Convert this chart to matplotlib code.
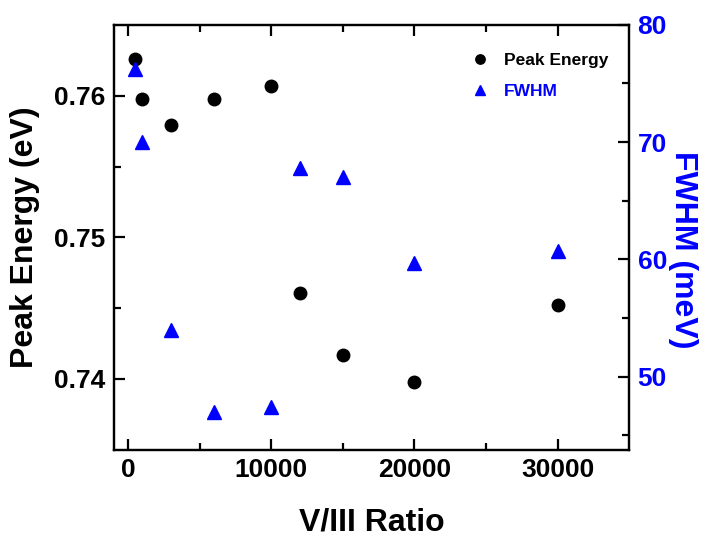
import matplotlib.pyplot as plt
import numpy as np

plt.rcParams['font.family'] = ['Liberation Sans', 'DejaVu Sans']
plt.rcParams['font.weight'] = 'bold'
plt.rcParams['axes.labelweight'] = 'bold'

# V/III ratio
ratio = [500, 1000, 3000, 6000, 10000, 12000, 15000, 20000, 30000]
# peak energy (eV)
energy = [0.7626, 0.7598, 0.7579, 0.7598, 0.7607, 0.7461, 0.7417, 0.7398, 0.7452]
# FWHM (meV)
fwhm = [76.2, 70.0, 54.0, 47.0, 47.4, 67.8, 67.0, 59.7, 60.7]

fig = plt.figure(figsize=(7.11, 5.40), dpi=100)
ax = fig.add_axes([0.160, 0.167, 0.725, 0.787])
ax2 = ax.twinx()

p1, = ax.plot(ratio, energy, 'o', color='black', markersize=9, label='Peak Energy')
p2, = ax2.plot(ratio, fwhm, '^', color='blue', markersize=10, label='FWHM')

ax.set_xlim(-1000, 35000)
ax.set_ylim(0.735, 0.765)
ax2.set_ylim(43.75, 80)

ax.set_xticks([0, 10000, 20000, 30000])
ax.set_xticks([5000, 15000, 25000], minor=True)
ax.set_yticks([0.74, 0.75, 0.76])
ax.set_yticks([0.745, 0.755], minor=True)
ax.set_yticklabels(['0.74', '0.75', '0.76'])
ax2.set_yticks([50, 60, 70, 80])
ax2.set_yticks([45, 55, 65, 75], minor=True)

for a in (ax, ax2):
    for s in a.spines.values():
        s.set_linewidth(1.6)
ax.tick_params(which='both', direction='in', top=True, width=1.6, labelsize=19, pad=6)
ax.tick_params(which='major', length=8)
ax.tick_params(which='minor', length=5)
ax.tick_params(axis='y', right=False)
ax2.tick_params(which='both', direction='in', width=1.6, labelsize=19, colors='black',
                labelcolor='blue', pad=6)
ax2.tick_params(which='major', length=8)
ax2.tick_params(which='minor', length=5)

ax.set_xlabel('V/III Ratio', fontsize=23, fontweight='bold', labelpad=18)
ax.set_ylabel('Peak Energy (eV)', fontsize=23, fontweight='bold', labelpad=10)
ax2.set_ylabel('FWHM (meV)', fontsize=23, fontweight='bold', color='blue',
               rotation=270, labelpad=24)
ax2.yaxis.set_label_coords(1.134, 0.47)

leg = ax.legend(handles=[p1, p2], loc='upper right', frameon=False, fontsize=12.5,
                handletextpad=0.4, markerscale=0.75, bbox_to_anchor=(0.99, 0.97),
                labelspacing=0.9)
for t, c in zip(leg.get_texts(), ['black', 'blue']):
    t.set_color(c)

fig.savefig('out.png', dpi=100)
